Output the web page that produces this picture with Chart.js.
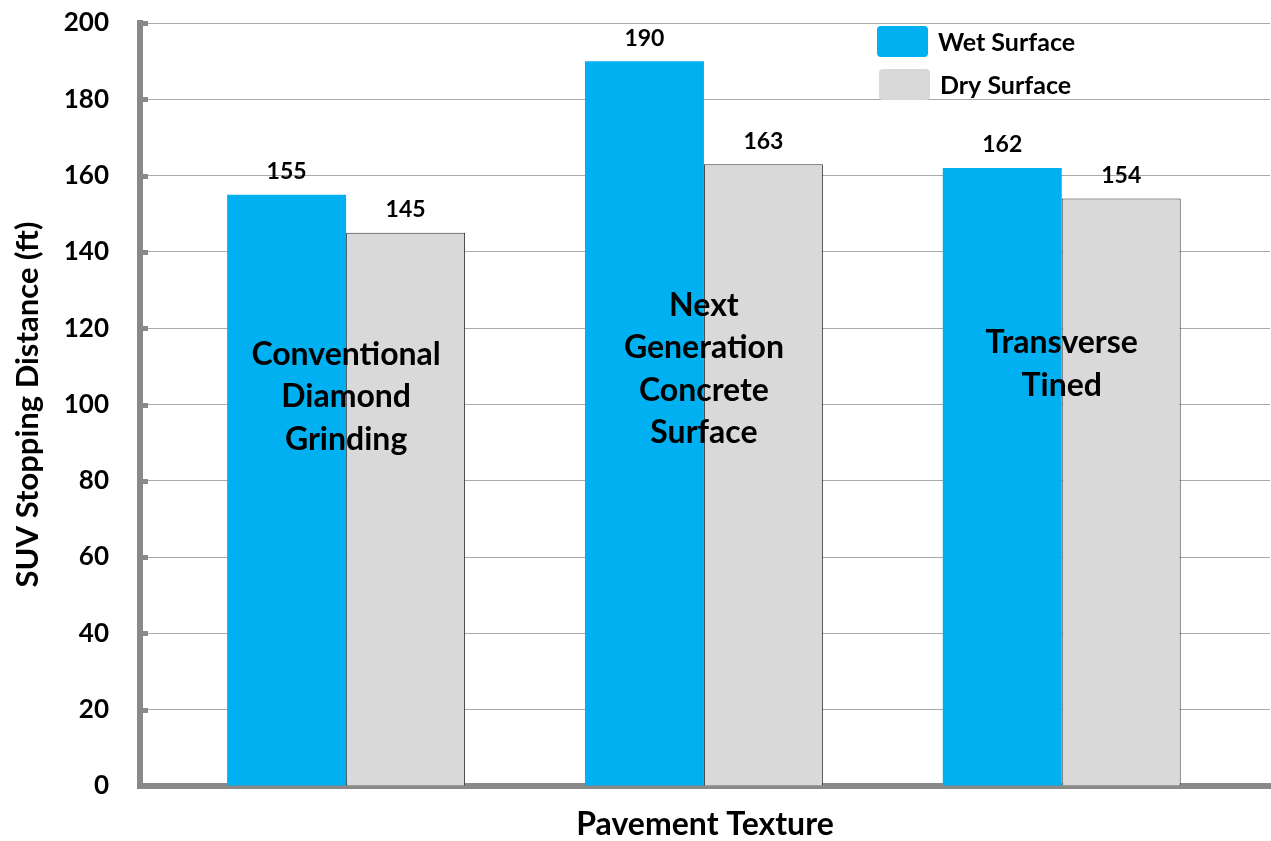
<!DOCTYPE html>
<html>
<head>
<meta charset="utf-8">
<script src="https://cdn.jsdelivr.net/npm/chart.js@4.4.0/dist/chart.umd.min.js"></script>
<style>
  html, body { margin: 0; padding: 0; background: #fff; }
  #wrap { width: 1271px; height: 841px; }
</style>
</head>
<body>
<div id="wrap"><canvas id="stopping-chart" width="1271" height="841"></canvas></div>
<script>
const categories = [
    ['Conventional', 'Diamond', 'Grinding'],
    ['Next', 'Generation', 'Concrete', 'Surface'],
    ['Transverse', 'Tined']
];
const wetSurface = [155, 190, 162];
const drySurface = [145, 163, 154];
const yTicks = [0, 20, 40, 60, 80, 100, 120, 140, 160, 180, 200];

const FONT = 'Lato, "Noto Sans", sans-serif';
const AXIS_GRAY = '#898989';

// where each category caption sits (in axis units)
const captionMid = [102, 109.3, 110.6];

const overlayPlugin = {
    id: 'overlay',
    afterDatasetsDraw(chart) {
        const ctx = chart.ctx;
        const x = chart.scales.x;
        const y = chart.scales.y;
        ctx.save();
        ctx.fillStyle = '#000';
        ctx.textAlign = 'center';
        ctx.textBaseline = 'middle';

        // values above bars
        ctx.font = 'bold 23px ' + FONT;
        chart.data.datasets.forEach((ds, di) => {
            chart.getDatasetMeta(di).data.forEach((bar, i) => {
                ctx.fillText(String(ds.data[i].y), bar.x, bar.y - 23);
            });
        });

        // category captions over the bars
        ctx.font = 'bold 32px ' + FONT;
        const lh = 42.5;
        categories.forEach((lines, i) => {
            const cx = x.getPixelForValue(i);
            const cy = y.getPixelForValue(captionMid[i]);
            const top = cy - (lines.length - 1) * lh / 2;
            lines.forEach((ln, k) => ctx.fillText(ln, cx, top + k * lh));
        });
        ctx.restore();
    },
    afterDraw(chart) {
        const ctx = chart.ctx;
        const area = chart.chartArea;
        const y = chart.scales.y;
        ctx.save();

        // little inside tick marks on the value axis
        ctx.fillStyle = AXIS_GRAY;
        y.ticks.forEach(t => {
            if (t.value === 0) return;
            const py = Math.round(y.getPixelForValue(t.value));
            ctx.fillRect(area.left + 2, py - 2, 6, 5);
        });

        // legend
        const lx = area.right - 393;
        const ly = area.top + 3;
        ctx.font = 'bold 25px ' + FONT;
        ctx.textAlign = 'left';
        ctx.textBaseline = 'middle';
        chart.data.datasets.forEach((ds, i) => {
            const by = ly + i * 43;
            const bx = lx + i * 2;
            ctx.fillStyle = ds.backgroundColor;
            ctx.beginPath();
            ctx.roundRect(bx, by, 51, 31, 4);
            ctx.fill();
            ctx.fillStyle = '#000';
            ctx.fillText(ds.label, bx + 61, by + 17);
        });
        ctx.restore();
    }
};

const ctx = document.getElementById('stopping-chart').getContext('2d');

new Chart(ctx, {
    type: 'bar',
    data: {
        datasets: [
            {
                label: 'Wet Surface',
                data: wetSurface.map((v, i) => ({ x: i, y: v })),
                backgroundColor: '#00B0F0',
                borderWidth: 0
            },
            {
                label: 'Dry Surface',
                data: drySurface.map((v, i) => ({ x: i, y: v })),
                backgroundColor: '#D9D9D9',
                borderColor: '#333333',
                borderWidth: 1
            }
        ]
    },
    options: {
        responsive: false,
        animation: false,
        categoryPercentage: 0.665,
        barPercentage: 1.0,
        layout: { padding: { top: 23, right: 1, left: 0, bottom: 0 } },
        plugins: {
            legend: { display: false },
            tooltip: { enabled: false }
        },
        scales: {
            x: {
                type: 'linear',
                offset: false,
                min: -0.576,
                max: 2.582,
                afterBuildTicks(scale) {
                    scale.ticks = categories.map((c, i) => ({ value: i }));
                },
                grid: { display: false, drawTicks: false },
                border: { color: AXIS_GRAY, width: 6 },
                ticks: { display: false },
                title: {
                    display: true,
                    text: 'Pavement Texture',
                    color: '#000',
                    font: { family: FONT, size: 32, weight: 'bold', lineHeight: 1 },
                    padding: { top: 27, bottom: 0 }
                },
                afterFit(scale) { scale.height = 55; }
            },
            y: {
                min: 0,
                max: 200,
                afterBuildTicks(scale) {
                    scale.ticks = yTicks.map(v => ({ value: v }));
                },
                grid: {
                    color: '#a9a9a9',
                    lineWidth: 1,
                    drawTicks: true,
                    tickLength: 31,
                    tickColor: 'rgba(0,0,0,0)'
                },
                border: { color: AXIS_GRAY, width: 6 },
                ticks: {
                    color: '#000',
                    padding: 0,
                    font: { family: FONT, size: 26, weight: 'bold' }
                },
                title: {
                    display: true,
                    text: 'SUV Stopping Distance (ft)',
                    color: '#000',
                    font: { family: FONT, size: 31, weight: 'bold', lineHeight: 1 },
                    padding: { top: 12, bottom: 0 }
                },
                afterFit(scale) { scale.width = 140; }
            }
        }
    },
    plugins: [overlayPlugin]
});
</script>
</body>
</html>
